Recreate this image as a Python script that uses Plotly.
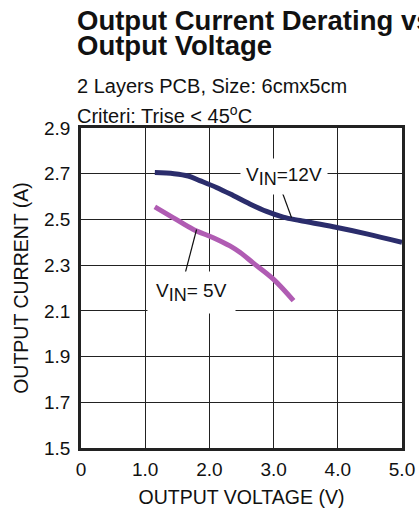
import plotly.graph_objects as go

# Output current derating vs output voltage
vout_12v = [1.15, 1.45, 1.67, 1.85, 2.11, 2.37, 2.63, 2.89, 3.15, 3.41, 3.93, 4.45, 5.0]
iout_12v = [2.705, 2.70, 2.69, 2.67, 2.64, 2.605, 2.568, 2.535, 2.51, 2.495, 2.468, 2.437, 2.40]

vout_5v = [1.15, 1.44, 1.75, 2.06, 2.32, 2.48, 2.68, 3.0, 3.31]
iout_5v = [2.555, 2.507, 2.456, 2.42, 2.384, 2.355, 2.31, 2.238, 2.145]

x_ticks = [0, 1, 2, 3, 4, 5]
x_ticktext = ["0", "1.0", "2.0", "3.0", "4.0", "5.0"]
y_ticks = [1.5, 1.7, 1.9, 2.1, 2.3, 2.5, 2.7, 2.9]
y_ticktext = ["1.5", "1.7", "1.9", "2.1", "2.3", "2.5", "2.7", "2.9"]

# label text position and leader line (label end -> curve)
label_12v = (3.16, 2.69)
leader_12v_x = [3.10, 3.28]
leader_12v_y = [2.645, 2.507]
label_5v = (1.72, 2.18)
leader_5v_x = [1.62, 1.80]
leader_5v_y = [2.262, 2.456]

FONT = "Liberation Sans, Arial, sans-serif"
NAVY = "#2b2d6c"
PURPLE = "#b05cb3"
SUB = '<sub><span style="font-size:18px">IN</span></sub>'

fig = go.Figure()
fig.add_trace(go.Scatter(x=vout_12v, y=iout_12v, mode="lines",
                         line=dict(color=NAVY, width=5, shape="spline"), showlegend=False))
fig.add_trace(go.Scatter(x=vout_5v, y=iout_5v, mode="lines",
                         line=dict(color=PURPLE, width=5, shape="spline"), showlegend=False))
for lx, ly in [(leader_12v_x, leader_12v_y), (leader_5v_x, leader_5v_y)]:
    fig.add_trace(go.Scatter(x=lx, y=ly, mode="lines",
                             line=dict(color="#111", width=1.2), showlegend=False))

fig.add_annotation(x=label_12v[0], y=label_12v[1], text="V" + SUB + "=12V", showarrow=False,
                   bgcolor="white", borderpad=5, font=dict(size=19, color="#111", family=FONT))
fig.add_annotation(x=label_5v[0], y=label_5v[1], text="V" + SUB + "= 5V", showarrow=False,
                   bgcolor="white", borderpad=8, font=dict(size=19, color="#111", family=FONT))

# header text (py = pixel row of text centre in the page)
def px_to_paper(py):
    return (448 - py) / 320

headers = [
    ("<b>Output Current Derating vs</b>", 27.5, 21),
    ("<b>Output Voltage</b>", 27.5, 45),
    ("2 Layers PCB, Size: 6cmx5cm", 20, 86),
    ("Criteri: Trise &lt; 45<sup>o</sup>C", 20, 114),
]
for txt, size, py in headers:
    fig.add_annotation(x=-6 / 321, y=px_to_paper(py), xref="paper", yref="paper",
                       xanchor="left", yanchor="middle", text=txt, showarrow=False,
                       font=dict(size=size, color="#111", family=FONT))

fig.update_xaxes(range=[0, 5], tickvals=x_ticks, ticktext=x_ticktext, automargin=False,
                 showgrid=True, gridcolor="#222", gridwidth=1.2,
                 showline=True, linecolor="#222", linewidth=2.5, mirror=True,
                 zeroline=False, ticks="", ticklabelstandoff=2,
                 tickfont=dict(size=19, color="#111", family=FONT),
                 title=dict(text="OUTPUT VOLTAGE (V)", font=dict(size=19.5, color="#111", family=FONT),
                            standoff=17))
fig.update_yaxes(range=[1.5, 2.9], tickvals=y_ticks, ticktext=y_ticktext, automargin=False,
                 showgrid=True, gridcolor="#222", gridwidth=1.2,
                 showline=True, linecolor="#222", linewidth=2.5, mirror=True,
                 zeroline=False, ticks="", ticklabelstandoff=4,
                 tickfont=dict(size=19, color="#111", family=FONT),
                 title=dict(text="OUTPUT CURRENT (A)", font=dict(size=19.5, color="#111", family=FONT),
                            standoff=11))

fig.update_layout(width=419, height=508, margin=dict(l=81, r=17, t=128, b=60),
                  plot_bgcolor="white", paper_bgcolor="white", hovermode=False,
                  font=dict(family=FONT, color="#111"))

# drop the default 8px page margin so the figure fills the window exactly
fig.write_html("out.html", config={"displayModeBar": False},
               post_script="document.body.style.margin='0';")
